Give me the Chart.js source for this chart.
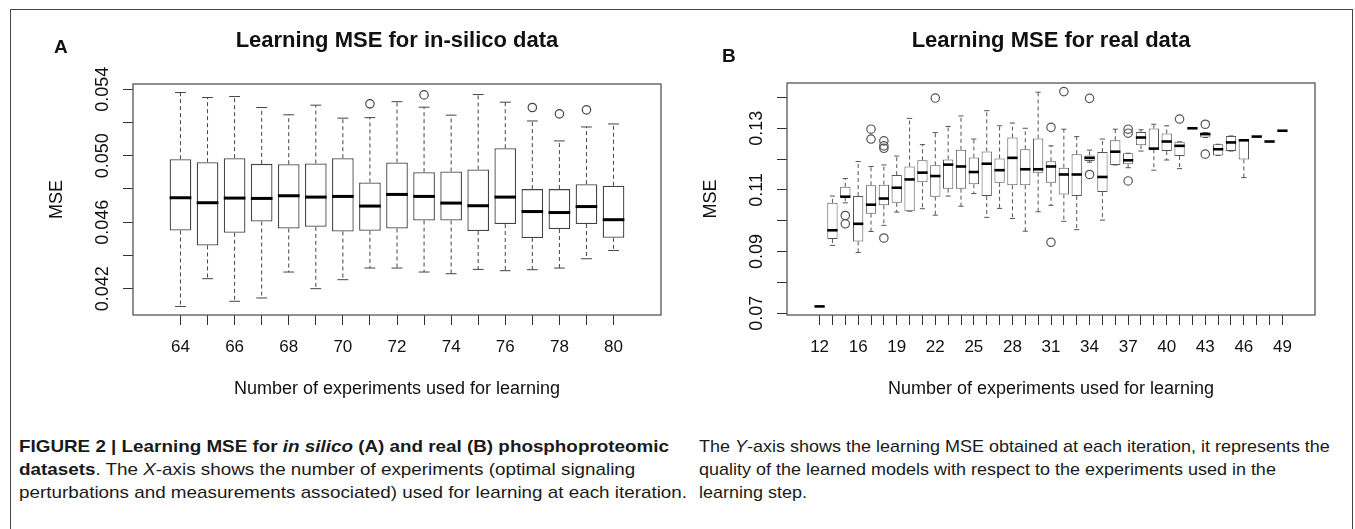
<!DOCTYPE html>
<html>
<head>
<meta charset="utf-8">
<script src="https://cdn.jsdelivr.net/npm/chart.js@4.4.0/dist/chart.umd.min.js"></script>
<style>
    html, body { margin: 0; padding: 0; background: #fff; }
    body {
        width: 1355px; height: 529px; position: relative; overflow: hidden;
        font-family: "Liberation Sans", Arial, sans-serif;
    }
    .frame {
        position: absolute; left: 10px; top: 9px; width: 1343px; height: 600px;
        border: 1.5px solid #444; box-sizing: border-box;
    }
    canvas { position: absolute; top: 0; }
    #chartA { left: 0; width: 680px; height: 430px; }
    #chartB { left: 680px; width: 675px; height: 430px; }
    .caption {
        position: absolute; top: 435px; font-size: 17px; line-height: 23px;
        color: #1a1a1a; white-space: nowrap; transform-origin: 0 0;
    }
    #capA { left: 19px; }
    #capB { left: 699px; }
</style>
</head>
<body>
<div class="frame"></div>
<canvas id="chartA" width="680" height="430"></canvas>
<canvas id="chartB" width="675" height="430"></canvas>
<div class="caption" id="capA"><span class="first"><b>FIGURE 2 | Learning MSE for <i>in silico</i> (A) and real (B) phosphoproteomic</b></span><br><b>datasets</b>. The <i>X</i>-axis shows the number of experiments (optimal signaling<br>perturbations and measurements associated) used for learning at each iteration.</div>
<div class="caption" id="capB"><span class="first">The <i>Y</i>-axis shows the learning MSE obtained at each iteration, it represents the</span><br>quality of the learned models with respect to the experiments used in the<br>learning step.</div>

<script>
// ---- panel A: in-silico data ----
const inSilicoLabels = [64, 65, 66, 67, 68, 69, 70, 71, 72, 73, 74, 75, 76, 77, 78, 79, 80];
const inSilicoLow = [0.04093, 0.04260, 0.04124, 0.04144, 0.04300, 0.04200, 0.04254, 0.04324, 0.04324, 0.04300, 0.04290, 0.04316, 0.04308, 0.04314, 0.04324, 0.04380, 0.04430];
const inSilicoQ1 = [0.04550, 0.04460, 0.04536, 0.04604, 0.04562, 0.04572, 0.04544, 0.04548, 0.04562, 0.04610, 0.04610, 0.04547, 0.04589, 0.04505, 0.04559, 0.04589, 0.04506];
const inSilicoMedian = [0.04747, 0.04717, 0.04745, 0.04743, 0.04759, 0.04751, 0.04755, 0.04697, 0.04767, 0.04755, 0.04715, 0.04699, 0.04751, 0.04664, 0.04658, 0.04694, 0.04615];
const inSilicoQ3 = [0.04979, 0.04961, 0.04985, 0.04951, 0.04949, 0.04953, 0.04985, 0.04839, 0.04959, 0.04901, 0.04905, 0.04917, 0.05045, 0.04799, 0.04799, 0.04829, 0.04819];
const inSilicoHigh = [0.05380, 0.05350, 0.05356, 0.05290, 0.05246, 0.05304, 0.05226, 0.05229, 0.05325, 0.05292, 0.05244, 0.05368, 0.05322, 0.05209, 0.05089, 0.05173, 0.05191];
const inSilicoOutlierX = [71, 73, 77, 78, 79];
const inSilicoOutlierY = [0.05312, 0.05366, 0.05290, 0.05252, 0.05276];
const inSilicoYTicks = [0.042, 0.044, 0.046, 0.048, 0.050, 0.052, 0.054];
const inSilicoYLabels = ["0.042", "0.046", "0.050", "0.054"];
const inSilicoXLabels = [64, 66, 68, 70, 72, 74, 76, 78, 80];

// ---- panel B: real data ----
const realLabels = [12, 14, 15, 16, 17, 18, 19, 20, 21, 22, 23, 24, 25, 26, 27, 28, 29, 30, 31, 32, 33, 34, 35, 36, 37, 38, 39, 40, 41, 42, 43, 44, 45, 46, 47, 48, 49];
const realLow = [0.0722, 0.0920, 0.1058, 0.0897, 0.0965, 0.0985, 0.1028, 0.1031, 0.1039, 0.1018, 0.1080, 0.1047, 0.1088, 0.1011, 0.1040, 0.1007, 0.0966, 0.1029, 0.1050, 0.0998, 0.0971, 0.1190, 0.1002, 0.1181, 0.1172, 0.1226, 0.1164, 0.1197, 0.1169, 0.1300, 0.1270, 0.1212, 0.1226, 0.1140, 0.1273, 0.1257, 0.1292];
const realQ1 = [0.0722, 0.0941, 0.1076, 0.0933, 0.1023, 0.1050, 0.1058, 0.1031, 0.1125, 0.1078, 0.1104, 0.1104, 0.1118, 0.1080, 0.1123, 0.1115, 0.1115, 0.1156, 0.1123, 0.1085, 0.1080, 0.1194, 0.1093, 0.1181, 0.1183, 0.1245, 0.1232, 0.1226, 0.1210, 0.1300, 0.1270, 0.1212, 0.1226, 0.1199, 0.1273, 0.1257, 0.1292];
const realMedian = [0.0722, 0.0969, 0.1078, 0.0990, 0.1052, 0.1072, 0.1107, 0.1134, 0.1156, 0.1145, 0.1182, 0.1176, 0.1158, 0.1185, 0.1164, 0.1204, 0.1167, 0.1167, 0.1176, 0.1150, 0.1150, 0.1204, 0.1142, 0.1224, 0.1196, 0.1270, 0.1234, 0.1257, 0.1243, 0.1300, 0.1281, 0.1232, 0.1254, 0.1261, 0.1273, 0.1257, 0.1292];
const realQ3 = [0.0722, 0.1058, 0.1110, 0.1080, 0.1115, 0.1117, 0.1148, 0.1176, 0.1196, 0.1180, 0.1199, 0.1230, 0.1205, 0.1225, 0.1202, 0.1270, 0.1232, 0.1267, 0.1193, 0.1172, 0.1216, 0.1212, 0.1223, 0.1261, 0.1219, 0.1288, 0.1299, 0.1283, 0.1256, 0.1300, 0.1286, 0.1248, 0.1275, 0.1261, 0.1273, 0.1257, 0.1292];
const realHigh = [0.0722, 0.1080, 0.1137, 0.1192, 0.1176, 0.1181, 0.1210, 0.1332, 0.1247, 0.1286, 0.1306, 0.1340, 0.1265, 0.1357, 0.1308, 0.1317, 0.1300, 0.1417, 0.1243, 0.1297, 0.1273, 0.1229, 0.1265, 0.1297, 0.1219, 0.1295, 0.1313, 0.1308, 0.1256, 0.1300, 0.1286, 0.1248, 0.1275, 0.1261, 0.1273, 0.1257, 0.1292];
const realOutlierX = [15, 15, 17, 17, 18, 18, 18, 18, 22, 31, 31, 32, 34, 34, 37, 37, 37, 41, 43, 43];
const realOutlierY = [0.1017, 0.0990, 0.1297, 0.1265, 0.1259, 0.1243, 0.1235, 0.0944, 0.1398, 0.1303, 0.0930, 0.1419, 0.1397, 0.1150, 0.1297, 0.1284, 0.1129, 0.1330, 0.1313, 0.1216];
const realYTicks = [0.07, 0.08, 0.09, 0.10, 0.11, 0.12, 0.13, 0.14];
const realYLabels = ["0.07", "0.09", "0.11", "0.13"];
const realXLabels = [12, 16, 19, 22, 25, 28, 31, 34, 37, 40, 43, 46, 49];

const FONT = '"Liberation Sans", Arial, sans-serif';

// R-like boxplot bits that Chart.js has no element for
const boxExtras = (spec) => ({
    id: "boxExtras",
    beforeDatasetsDraw(chart) {
        const { ctx, scales: { x, y } } = chart;
        const seg = (x1, y1, x2, y2) => {
            ctx.beginPath();
            ctx.moveTo(x1, y1);
            ctx.lineTo(x2, y2);
            ctx.stroke();
        };
        ctx.save();
        ctx.strokeStyle = spec.lineColor;
        ctx.lineWidth = 1;
        spec.labels.forEach((_, i) => {
            const px = x.getPixelForValue(i + 1);
            const cap = x.getPixelForValue(i + 1.2) - px;
            const yHi = y.getPixelForValue(spec.high[i]);
            const yLo = y.getPixelForValue(spec.low[i]);
            ctx.setLineDash([4, 3]);
            seg(px, y.getPixelForValue(spec.q3[i]), px, yHi);
            seg(px, y.getPixelForValue(spec.q1[i]), px, yLo);
            ctx.setLineDash([]);
            seg(px - cap, yHi, px + cap, yHi);
            seg(px - cap, yLo, px + cap, yLo);
        });
        ctx.restore();
    },
    afterDatasetsDraw(chart) {
        const { ctx, chartArea: a, scales: { x, y } } = chart;
        ctx.save();
        ctx.strokeStyle = "#000";
        ctx.lineWidth = spec.medianWidth;
        spec.labels.forEach((_, i) => {
            const px = x.getPixelForValue(i + 1);
            const half = x.getPixelForValue(i + 1.4) - px;
            const py = y.getPixelForValue(spec.median[i]);
            ctx.beginPath();
            ctx.moveTo(px - half, py);
            ctx.lineTo(px + half, py);
            ctx.stroke();
        });
        ctx.strokeStyle = "#555";
        ctx.lineWidth = 1.3;
        ctx.strokeRect(a.left, a.top, a.width, a.height);
        ctx.restore();
    },
    afterDraw(chart) {
        const { ctx, chartArea: a, scales: { y } } = chart;
        const cx = (a.left + a.right) / 2;
        ctx.save();
        ctx.fillStyle = "#111";

        ctx.font = "bold 22px " + FONT;
        ctx.textAlign = "center";
        ctx.textBaseline = "alphabetic";
        ctx.fillText(spec.title, cx, 47);

        ctx.font = "bold 19px " + FONT;
        ctx.textAlign = "left";
        ctx.fillText(spec.letter, spec.letterX, spec.letterY);

        ctx.font = "18px " + FONT;
        ctx.textAlign = "center";
        ctx.textBaseline = "middle";
        ctx.fillText("Number of experiments used for learning", cx, 389);

        ctx.textBaseline = "alphabetic";
        spec.yLabels.forEach((lab) => {
            ctx.save();
            ctx.translate(a.left - 25, y.getPixelForValue(parseFloat(lab)));
            ctx.rotate(-Math.PI / 2);
            ctx.fillText(lab, 0, 0);
            ctx.restore();
        });

        ctx.translate(a.left - 71, (a.top + a.bottom) / 2);
        ctx.rotate(-Math.PI / 2);
        ctx.fillText("MSE", 0, 0);
        ctx.restore();
    },
});

function boxChart(id, spec) {
    const n = spec.labels.length;
    const all = spec.low.concat(spec.high, spec.outY);
    const lo = Math.min(...all);
    const hi = Math.max(...all);
    const ext = (hi - lo) * 0.04;

    return new Chart(document.getElementById(id), {
        type: "bar",
        data: {
            datasets: [
                {
                    type: "bar",
                    data: spec.labels.map((_, i) => ({ x: i + 1, y: [spec.q1[i], spec.q3[i]] })),
                    backgroundColor: "#fff",
                    borderColor: spec.lineColor,
                    borderWidth: spec.boxWidth,
                    borderSkipped: false,
                    barPercentage: 0.8,
                    categoryPercentage: 1,
                },
                {
                    type: "scatter",
                    data: spec.outX.map((lab, k) => ({ x: spec.labels.indexOf(lab) + 1, y: spec.outY[k] })),
                    pointRadius: 4.2,
                    pointBackgroundColor: "rgba(0,0,0,0)",
                    pointBorderColor: spec.lineColor,
                    pointBorderWidth: 1.2,
                },
            ],
        },
        options: {
            responsive: false,
            animation: false,
            devicePixelRatio: 1,
            events: [],
            layout: { padding: spec.padding },
            plugins: { legend: { display: false }, tooltip: { enabled: false } },
            scales: {
                x: {
                    type: "linear",
                    min: 0.5 - 0.04 * n,
                    max: n + 0.5 + 0.04 * n,
                    afterBuildTicks: (s) => {
                        s.ticks = spec.labels.map((_, i) => ({ value: i + 1 }));
                    },
                    afterFit: (s) => {
                        s.height = 50;
                    },
                    ticks: {
                        autoSkip: false,
                        maxRotation: 0,
                        minRotation: 0,
                        padding: 12,
                        color: "#111",
                        font: { family: FONT, size: 17 },
                        callback: (v) => {
                            const lab = spec.labels[v - 1];
                            return spec.xLabels.includes(lab) ? String(lab) : "";
                        },
                    },
                    grid: { drawOnChartArea: false, tickLength: 10, color: "#333", offset: false },
                    border: { display: false },
                },
                y: {
                    min: lo - ext,
                    max: hi + ext,
                    afterBuildTicks: (s) => {
                        s.ticks = spec.yTicks.map((v) => ({ value: v }));
                    },
                    afterFit: (s) => {
                        s.width = spec.yWidth;
                    },
                    ticks: { display: false },
                    grid: { drawOnChartArea: false, tickLength: 10, color: "#333" },
                    border: { display: false },
                },
            },
        },
        plugins: [boxExtras(spec)],
    });
}

boxChart("chartA", {
    labels: inSilicoLabels,
    low: inSilicoLow,
    q1: inSilicoQ1,
    median: inSilicoMedian,
    q3: inSilicoQ3,
    high: inSilicoHigh,
    outX: inSilicoOutlierX,
    outY: inSilicoOutlierY,
    yTicks: inSilicoYTicks,
    yLabels: inSilicoYLabels,
    xLabels: inSilicoXLabels,
    title: "Learning MSE for in-silico data",
    letter: "A",
    letterX: 54,
    letterY: 53,
    yWidth: 133,
    padding: { left: 0, top: 84, right: 19, bottom: 65 },
    lineColor: "#444",
    boxWidth: 1.3,
    medianWidth: 3,
});

boxChart("chartB", {
    labels: realLabels,
    low: realLow,
    q1: realQ1,
    median: realMedian,
    q3: realQ3,
    high: realHigh,
    outX: realOutlierX,
    outY: realOutlierY,
    yTicks: realYTicks,
    yLabels: realYLabels,
    xLabels: realXLabels,
    title: "Learning MSE for real data",
    letter: "B",
    letterX: 42,
    letterY: 62,
    yWidth: 107,
    padding: { left: 0, top: 83, right: 40, bottom: 65 },
    lineColor: "#555",
    boxWidth: 1,
    medianWidth: 2.6,
});

// the caption face is narrower than Liberation Sans: squeeze each block to its measured width
[["capA", 650], ["capB", 631]].forEach(([id, target]) => {
    const el = document.getElementById(id);
    const w = el.querySelector(".first").getBoundingClientRect().width;
    el.style.transform = "scaleX(" + (target / w).toFixed(3) + ")";
});
</script>
</body>
</html>
